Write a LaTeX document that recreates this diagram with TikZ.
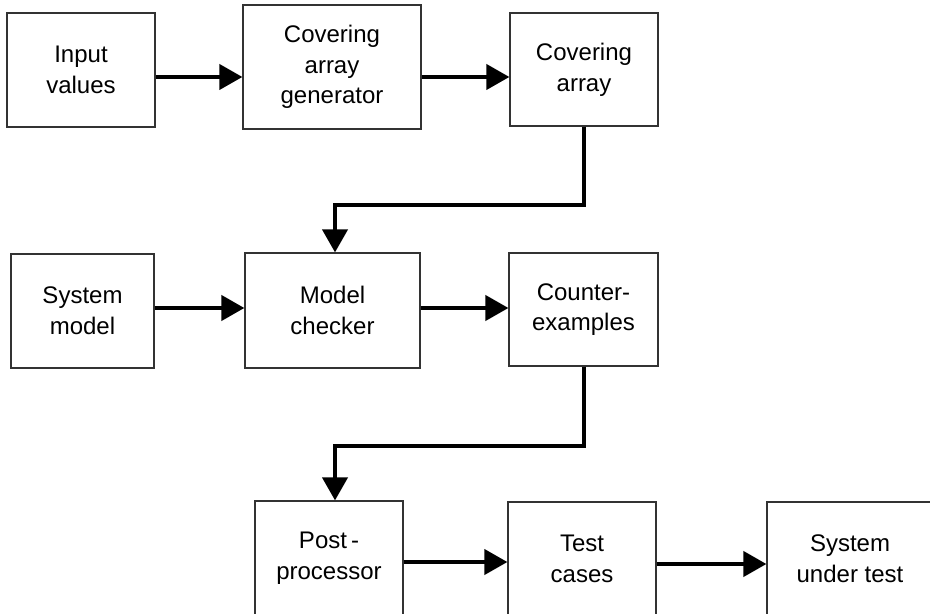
\documentclass[tikz,border=0pt]{standalone}
\usepackage{fontspec}
\setmainfont{Liberation Sans}
\usetikzlibrary{arrows.meta}

\begin{document}
\begin{tikzpicture}[x=0.5pt, y=-0.5pt,
		blok/.style={draw=black!80, line width=0.6pt, align=center, inner sep=0pt, font=\fontsize{12}{15.3}\selectfont},
		flow/.style={line width=2pt, -{Triangle[length=11.5pt, width=12.5pt]}}]
			%%%%% START %%%%%
			
			\useasboundingbox (0,0) rectangle (930,614);
			\clip (0,0) rectangle (930,614);
			
			\node[blok, minimum width=74pt, minimum height=57pt] (inp) at (81,70) {Input\\values};
			\node[blok, minimum width=89pt, minimum height=62pt] (cag) at (332,67) {Covering\\array\\generator};
			\node[blok, minimum width=74pt, minimum height=56.5pt] (ca) at (584,69.5) {Covering\\array};
			
			\node[blok, minimum width=71.5pt, minimum height=57pt] (sm) at (82.5,311) {System\\model};
			\node[blok, minimum width=87.5pt, minimum height=57.5pt] (mc) at (332.5,310.5) {Model\\checker};
			\node[blok, minimum width=74.5pt, minimum height=56.5pt] (ce) at (583.5,309.5) {Counter-\\examples};
			
			\node[blok, minimum width=74pt, minimum height=57pt] (pp) at (329,558) {Post\,-\\processor};
			\node[blok, minimum width=74pt, minimum height=57pt] (tc) at (582,559) {Test\\cases};
			\node[blok, minimum width=83pt, minimum height=57pt] (sut) at (850,559) {System\\under test};
			
			\draw[flow] (inp.east |- 0,77) -- (cag.west |- 0,77);
			\draw[flow] (cag.east |- 0,77) -- (ca.west |- 0,77);
			
			\coordinate (k1) at (335,205);
			\draw[flow] (ca.south) |- (k1) -- (k1 |- mc.north);
			
			\draw[flow] (sm.east |- 0,308) -- (mc.west |- 0,308);
			\draw[flow] (mc.east |- 0,308) -- (ce.west |- 0,308);
			
			\coordinate (k2) at (335,446);
			\draw[flow] (ce.south) |- (k2) -- (k2 |- pp.north);
			
			\draw[flow] (pp.east |- 0,562) -- (tc.west |- 0,562);
			\draw[flow] (tc.east |- 0,564) -- (sut.west |- 0,564);
			
			%%%%% END %%%%%
		\end{tikzpicture}
\end{document}
